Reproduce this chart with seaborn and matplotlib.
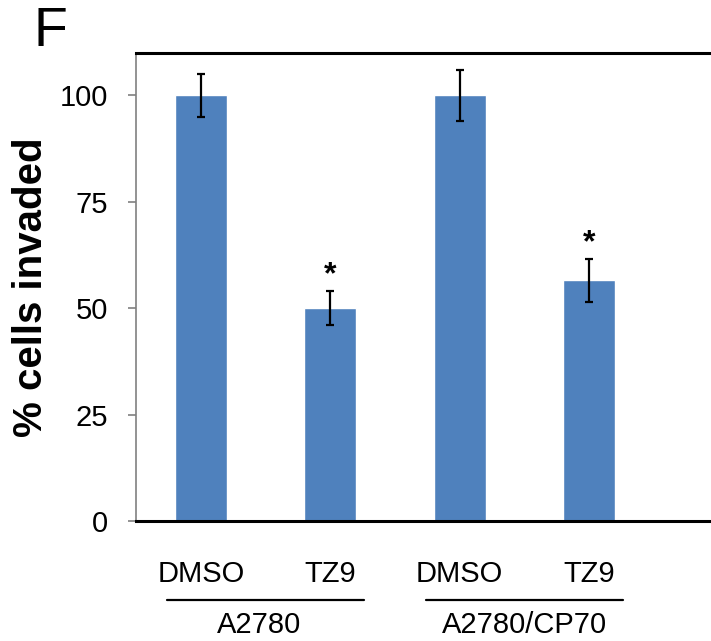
import pandas as pd
import matplotlib
matplotlib.use('Agg')
import matplotlib.pyplot as plt
import matplotlib.transforms as mtransforms
import seaborn as sns

# Data
groups = ['A2780', 'A2780', 'A2780/CP70', 'A2780/CP70']
treatments = ['DMSO', 'TZ9', 'DMSO', 'TZ9']
invaded = [100, 50, 100, 56.5]
errors = [5, 4, 6, 5]
significant = [False, True, False, True]
group_names = ['A2780', 'A2780/CP70']

data = pd.DataFrame({'group': groups, 'treatment': treatments,
                     'invaded': invaded, 'err': errors})
data['key'] = data['group'] + ' ' + data['treatment']

sns.set_style('white')
plt.rcParams['font.family'] = ['Liberation Sans', 'DejaVu Sans']
plt.rcParams['text.color'] = 'black'
plt.rcParams['ytick.labelcolor'] = 'black'
plt.rcParams['xtick.labelcolor'] = 'black'
plt.rcParams['axes.labelcolor'] = 'black'

fig = plt.figure(figsize=(7.11, 6.41), dpi=100)
ax = fig.add_axes([136 / 711, 1 - 521 / 641, 580 / 711, (521 - 52.7) / 641])

sns.barplot(data=data, x='key', y='invaded', color='#4F81BD', saturation=1,
            width=0.4, errorbar=None, ax=ax)
ax.errorbar(range(len(data)), data['invaded'], yerr=data['err'], fmt='none',
            ecolor='black', elinewidth=1.6, capsize=3, capthick=1.6)

# significance stars
for i, (v, e, s) in enumerate(zip(invaded, errors, significant)):
    if s:
        ax.text(i, v + e + 0.3, '*', ha='center', va='bottom', fontsize=23,
                fontweight='bold')

ax.set_xlim(-0.5, 580 / 129.5 - 0.5)
ax.set_ylim(0, 110)
ax.set_yticks([0, 25, 50, 75, 100])
ax.tick_params(axis='y', labelsize=21, length=6, width=1.2, color='#808080',
               pad=14, left=True)
ax.set_xticks(range(len(data)))
ax.set_xticklabels(treatments, fontsize=21)
ax.tick_params(axis='x', length=0, pad=28)
ax.set_xlabel('')
ax.set_ylabel('% cells invaded', fontsize=29, fontweight='bold', labelpad=7)

for side in ['top', 'bottom']:
    ax.spines[side].set_color('black')
    ax.spines[side].set_linewidth(2.2)
ax.spines['left'].set_color('#808080')
ax.spines['left'].set_linewidth(1.2)
ax.spines['right'].set_visible(False)

# group lines and labels below the treatment labels
trans = mtransforms.blended_transform_factory(ax.transData, ax.transAxes)
for g, name in enumerate(group_names):
    center = 2 * g + 0.5
    ax.plot([center - 0.76, center + 0.76], [-0.169, -0.169], color='black',
            lw=1.6, transform=trans, clip_on=False)
    ax.text(center - 0.05 * (1 - g), -0.222, name, ha='center', va='center',
            fontsize=21, transform=trans)

fig.text(33 / 711, 1 - 32 / 641, 'F', fontsize=40, ha='left', va='center')

fig.savefig('out.png', dpi=100)
